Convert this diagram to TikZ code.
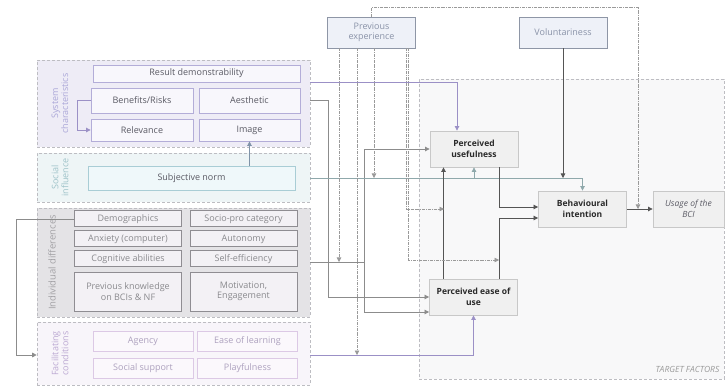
\documentclass[tikz,border=0pt]{standalone}
\usepackage{fontspec}
\setmainfont{Open Sans}
\usetikzlibrary{arrows.meta,positioning}

\definecolor{panelgrey}{HTML}{BDBDC2}
\definecolor{sysfill}{HTML}{EEECF6}
\definecolor{socfill}{HTML}{EEF5F6}
\definecolor{indfill}{HTML}{E4E3E6}
\definecolor{facfill}{HTML}{F8F5FA}
\definecolor{tgtfill}{HTML}{F8F8F9}
\definecolor{syslabel}{HTML}{ABA7D8}
\definecolor{soclabel}{HTML}{9FC3C9}
\definecolor{indlabel}{HTML}{A3A2A6}
\definecolor{faclabel}{HTML}{BBA8D2}
\definecolor{sysline}{HTML}{B3ADD8}
\definecolor{sysbox}{HTML}{F8F7FC}
\definecolor{systext}{HTML}{5A5A64}
\definecolor{snline}{HTML}{A9CDD5}
\definecolor{snbox}{HTML}{EFF8FA}
\definecolor{indline}{HTML}{8F8D92}
\definecolor{indbox}{HTML}{F3F1F5}
\definecolor{indtext}{HTML}{8A8A8E}
\definecolor{facline}{HTML}{DCC9E5}
\definecolor{facbox}{HTML}{FBF8FC}
\definecolor{factext}{HTML}{ADA1BE}
\definecolor{topline}{HTML}{8E96A6}
\definecolor{topfill}{HTML}{EEF1F8}
\definecolor{toptext}{HTML}{8A93A8}
\definecolor{mainline}{HTML}{C8C8C8}
\definecolor{mainfill}{HTML}{F0F0F0}
\definecolor{maintext}{HTML}{2A2A2A}
\definecolor{linkgrey}{HTML}{8C8C8C}
\definecolor{linkpurple}{HTML}{9B90C6}
\definecolor{linkteal}{HTML}{8FA8AB}
\definecolor{linkblue}{HTML}{7F93A8}
\definecolor{linkdark}{HTML}{555555}
\definecolor{modgrey}{HTML}{9A9A9A}

\begin{document}
\begin{tikzpicture}[x=1pt,y=-1pt,->,>={Triangle[length=4.5pt,width=4.5pt]},line width=0.7pt,
  panel/.style={draw=panelgrey,densely dashed,line width=0.6pt,inner sep=0pt},
  side/.style={rotate=90,align=center,font=\fontsize{9}{10}\selectfont},
  box/.style={draw,solid,line width=0.8pt,inner sep=1pt,align=center,font=\fontsize{9}{10.5}\selectfont},
  sys box/.style={box,draw=sysline,fill=sysbox,text=systext},
  ind box/.style={box,draw=indline,fill=indbox,text=indtext,line width=1pt,minimum width=107},
  fac box/.style={box,draw=facline,fill=facbox,text=factext,minimum width=100,minimum height=20},
  top box/.style={box,draw=topline,fill=topfill,text=toptext,minimum width=88,minimum height=31},
  main node/.style={box,draw=mainline,fill=mainfill,text=maintext,font=\fontsize{8.5}{10.5}\selectfont\bfseries,minimum width=88,minimum height=36},
  glink/.style={draw=linkgrey},
  plink/.style={draw=linkpurple},
  tlink/.style={draw=linkteal},
  blink/.style={draw=linkblue},
  dlink/.style={draw=linkdark},
  mod/.style={draw=modgrey,densely dashdotted,line width=0.6pt}]
\useasboundingbox (0,0) rectangle (725,387);
%panels
  \node[panel,fill=sysfill,minimum width=273,minimum height=87] (sys) at (173.5,103.5) {};
  \node[panel,fill=socfill,minimum width=273,minimum height=49] (soc) at (173.5,177.5) {};
  \node[panel,fill=indfill,minimum width=273,minimum height=109] (ind) at (173.5,262.5) {};
  \node[panel,fill=facfill,minimum width=273,minimum height=63] (fac) at (173.5,353.5) {};
  \node[panel,fill=tgtfill,minimum width=305,minimum height=300] (tgt) at (571.5,229) {};
  \node[anchor=south east,text=modgrey,font=\fontsize{8.5}{10}\selectfont\itshape] (tgtlab) at (723,376) {TARGET FACTORS};
%side labels
  \node[side,text=syslabel] (syslab) at (60,103.5) {System\\characteristics};
  \node[side,text=soclabel] (soclab) at (60,177.5) {Social\\influence};
  \node[side,text=indlabel,font=\fontsize{9.5}{10}\selectfont] (indlab) at (52,262.5) {Individual differences};
  \node[side,text=faclabel] (faclab) at (60,353.5) {Facilitating\\conditions};
%system characteristics
  \node[sys box,minimum width=207,minimum height=17] (rd) at (196.5,73.5) {Result demonstrability};
  \node[sys box,minimum width=102,minimum height=25] (br) at (142,100.5) {Benefits/Risks};
  \node[sys box,minimum width=101,minimum height=25] (aes) at (249.5,100.5) {Aesthetic};
  \node[sys box,minimum width=102,minimum height=22] (rel) at (142,130) {Relevance};
  \node[sys box,minimum width=101,minimum height=22] (img) at (249.5,130) {Image};
%social influence
  \node[box,draw=snline,fill=snbox,text=systext,minimum width=207,minimum height=24] (sn) at (191.5,178) {Subjective norm};
%individual differences
  \node[ind box,minimum height=16] (demo) at (128,219) {Demographics};
  \node[ind box,minimum height=16] (socio) at (243.5,219) {Socio-pro category};
  \node[ind box,minimum height=16] (anx) at (128,239) {Anxiety (computer)};
  \node[ind box,minimum height=16] (auto) at (243.5,239) {Autonomy};
  \node[ind box,minimum height=16] (cog) at (128,259) {Cognitive abilities};
  \node[ind box,minimum height=16] (self) at (243.5,259) {Self-efficiency};
  \node[ind box,minimum height=39] (prev) at (128,291.5) {Previous knowledge\\on BCIs \& NF};
  \node[ind box,minimum height=39] (moti) at (243.5,291.5) {Motivation,\\Engagement};
%facilitating conditions
  \node[fac box] (agency) at (143,341) {Agency};
  \node[fac box] (ease) at (247.5,341) {Ease of learning};
  \node[fac box] (socsup) at (143,368) {Social support};
  \node[fac box] (play) at (247.5,368) {Playfulness};
%top factors
  \node[top box] (pe) at (371.5,32.5) {Previous\\experience};
  \node[top box] (vol) at (563,32.5) {Voluntariness};
%target factors
  \node[main node] (pu) at (474,149) {Perceived\\usefulness};
  \node[main node] (peou) at (473.5,297) {Perceived ease of\\use};
  \node[main node] (bi) at (582.5,209) {Behavioural\\intention};
  \node[main node,font=\fontsize{8.5}{10.5}\selectfont\itshape,text=systext,minimum width=71] (use) at (688.5,209) {Usage of the\\BCI};
%junctions
  \coordinate (idj) at (364,262);
  \coordinate (m1) at (339,262);
  \coordinate (m2) at (357,355);
  \coordinate (m3) at (374,178);
  \coordinate (m4) at (444,209);
  \coordinate (m5) at (499,260);
  \coordinate (m6) at (638,209);
%paths
  \draw[plink] (br.west) -- ++(-13,0) |- (rel.west);
  \draw[blink] (img.south |- sn.north) -- (img.south);
  \draw[plink] (sys.east |- rd.south) -| ([xshift=-17pt]pu.north);
  \draw[glink] (sys.east |- aes) -- ++(18,0) |- (peou.west);
  \draw[glink] (ind.east |- idj) -- (idj) |- (pu.west);
  \draw[glink] (idj) |- ([yshift=-15pt]peou.west);
  \draw[glink] (demo.west) -- ++(-58,0) |- ([yshift=-1.5pt]fac.west);
  \draw[plink] ([yshift=-1.5pt]fac.east) -| (peou.south);
  \draw[tlink] (soc.east |- sn) -| (bi.north);
  \draw[tlink] (pu.south |- sn) -- (pu.south);
  \draw[dlink] (vol.south) -- (vol.south |- sn);
  \draw[dlink] ([xshift=-30pt]peou.north) -- ([xshift=-30pt]peou.north |- pu.south);
  \draw[dlink] ([xshift=25pt]pu.south) |- ([yshift=2pt]bi.west);
  \draw[dlink] ([xshift=25.5pt]peou.north) |- ([yshift=-9pt]bi.west);
  \draw[dlink] (bi) -- (use);
%moderators
  \draw[mod] (pe.north) -- ++(0,-9) -| (m6);
  \draw[mod] (pe.south -| m1) -- (m1);
  \draw[mod] (pe.south -| m2) -- (m2);
  \draw[mod] (pe.south -| m3) -- (m3);
  \draw[mod] ([xshift=34.5pt]pe.south) |- (m4);
  \draw[mod] ([xshift=36.5pt]pe.south) |- (m5);
\end{tikzpicture}
\end{document}
